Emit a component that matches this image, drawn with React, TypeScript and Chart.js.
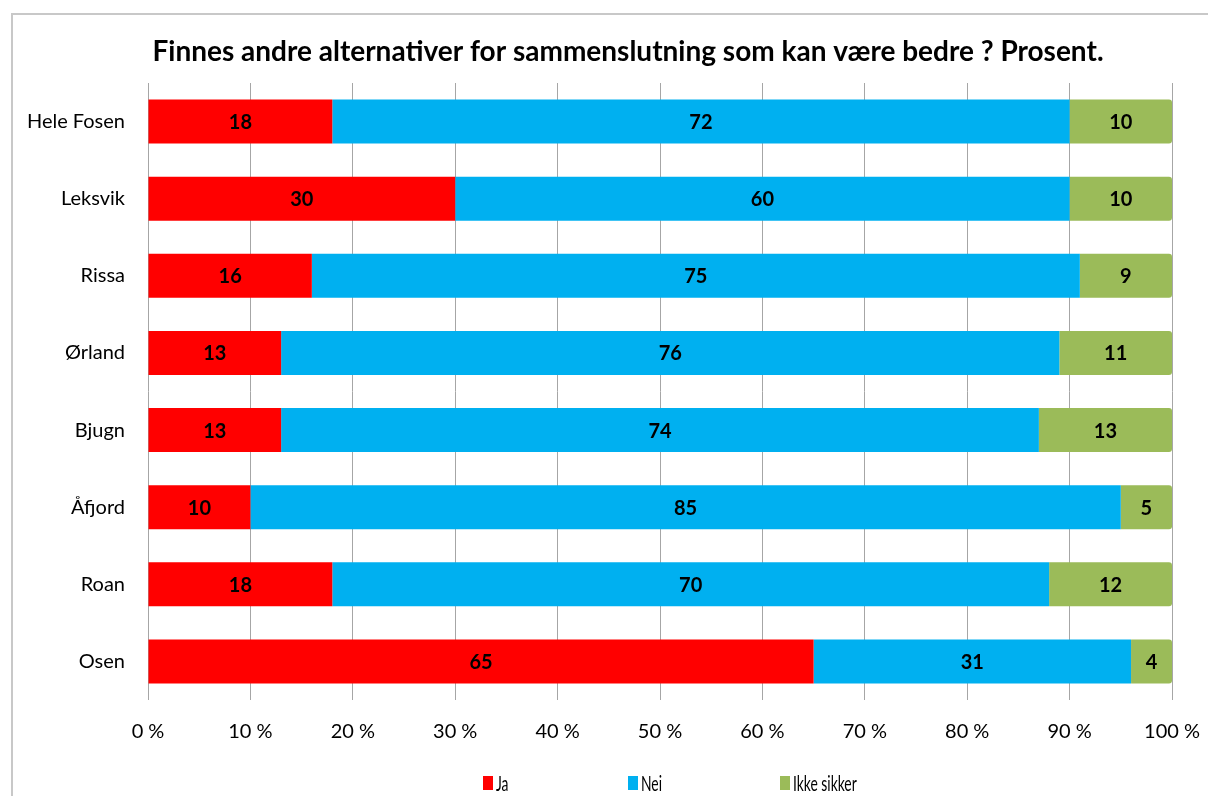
import React, { useEffect, useRef } from "react";
import { Chart, registerables } from "chart.js";

Chart.register(...registerables);

const TITLE = "Finnes andre alternativer for sammenslutning som kan være bedre ? Prosent.";
const categories = ["Hele Fosen", "Leksvik", "Rissa", "Ørland", "Bjugn", "Åfjord", "Roan", "Osen"];
const seriesNames = ["Ja", "Nei", "Ikke sikker"];
const jaValues = [18, 30, 16, 13, 13, 10, 18, 65];
const neiValues = [72, 60, 75, 76, 74, 85, 70, 31];
const ikkeValues = [10, 10, 9, 11, 13, 5, 12, 4];
const seriesColors = ["#FF0000", "#00B0F0", "#9BBB59"];
const xTicks = [0, 10, 20, 30, 40, 50, 60, 70, 80, 90, 100];

const FONT = "Lato, 'Open Sans', sans-serif";

const framePlugin = {
  id: "frame",
  beforeDraw(chart: any) {
    const ctx = chart.ctx;
    ctx.save();
    ctx.fillStyle = "#ffffff";
    ctx.fillRect(0, 0, chart.width, chart.height);
    ctx.strokeStyle = "#c8c8c8";
    ctx.lineWidth = 2;
    ctx.strokeRect(12, 14, chart.width + 40, chart.height + 40);
    ctx.restore();
  },
};

const titlePlugin = {
  id: "customTitle",
  afterDraw(chart: any) {
    const ctx = chart.ctx;
    ctx.save();
    ctx.font = `bold 28px ${FONT}`;
    ctx.fillStyle = "#000000";
    ctx.textAlign = "center";
    ctx.textBaseline = "middle";
    ctx.fillText(TITLE, 628, 52);
    ctx.restore();
  },
};

const labelPlugin = {
  id: "segLabels",
  afterDatasetsDraw(chart: any) {
    const ctx = chart.ctx;
    ctx.save();
    ctx.font = `bold 20px ${FONT}`;
    ctx.fillStyle = "#000000";
    ctx.textAlign = "center";
    ctx.textBaseline = "middle";
    chart.data.datasets.forEach((ds: any, di: number) => {
      const meta = chart.getDatasetMeta(di);
      meta.data.forEach((el: any, i: number) => {
        const p = el.getCenterPoint();
        ctx.fillText(String(ds.data[i]), p.x, p.y + 1);
      });
    });
    ctx.restore();
  },
};

const legendPlugin = {
  id: "customLegend",
  afterDraw(chart: any) {
    const ctx = chart.ctx;
    ctx.save();
    ctx.font = `21px ${FONT}`;
    ctx.textBaseline = "middle";
    ctx.textAlign = "left";
    const y = 783;
    const starts = [483, 628, 780];
    chart.data.datasets.forEach((ds: any, i: number) => {
      const x = starts[i];
      ctx.fillStyle = ds.backgroundColor;
      ctx.fillRect(x, y - 7, 10, 14);
      ctx.fillStyle = "#000000";
      ctx.save();
      ctx.translate(x + 13, y + 1);
      ctx.scale(0.66, 1);
      ctx.fillText(ds.label, 0, 0);
      ctx.restore();
    });
    ctx.restore();
  },
};

export default function App() {
  const ref = useRef<HTMLCanvasElement>(null);
  useEffect(() => {
    if (!ref.current) return;
    const chart = new Chart(ref.current, {
      type: "bar",
      data: {
        labels: categories,
        datasets: [
          { label: seriesNames[0], data: jaValues, backgroundColor: seriesColors[0] },
          { label: seriesNames[1], data: neiValues, backgroundColor: seriesColors[1] },
          {
            label: seriesNames[2],
            data: ikkeValues,
            backgroundColor: seriesColors[2],
            borderRadius: 3,
            borderSkipped: "start",
          },
        ],
      },
      plugins: [framePlugin, labelPlugin, legendPlugin, titlePlugin],
      options: {
        indexAxis: "y",
        responsive: false,
        maintainAspectRatio: false,
        animation: false,
        categoryPercentage: 1,
        barPercentage: 0.57,
        layout: { padding: { left: 0, right: 36, top: 83, bottom: 0 } },
        plugins: {
          legend: { display: false },
          tooltip: { enabled: false },
          title: { display: false },
        },
        scales: {
          x: {
            stacked: true,
            min: 0,
            max: 100,
            afterBuildTicks: (s: any) => {
              s.ticks = xTicks.map((v) => ({ value: v }));
            },
            afterFit: (s: any) => {
              s.height = 96;
              s.paddingLeft = 0;
              s.paddingRight = 0;
            },
            grid: { color: "#a6a6a6", lineWidth: 1, drawTicks: false },
            border: { display: false },
            ticks: {
              padding: 20,
              color: "#000000",
              font: { family: FONT, size: 20 },
              maxRotation: 0,
              autoSkip: false,
              callback: (v: any) => `${v} %`,
            },
          },
          y: {
            stacked: true,
            afterFit: (s: any) => {
              s.width = 148;
              s.paddingTop = 0;
              s.paddingBottom = 0;
            },
            grid: { display: false },
            border: { display: false },
            ticks: {
              padding: 15,
              color: "#000000",
              font: { family: FONT, size: 20 },
            },
          },
        },
      },
    });
    return () => chart.destroy();
  }, []);
  return (
    <div style={{ position: "absolute", left: 0, top: 0, width: 1208, height: 796, background: "#fff" }}>
      <canvas ref={ref} width={1208} height={796} style={{ width: 1208, height: 796, display: "block" }} />
    </div>
  );
}
